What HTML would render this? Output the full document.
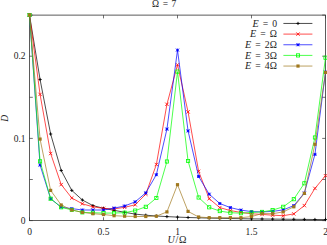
<!DOCTYPE html><html><head><meta charset="utf-8"><style>html,body{margin:0;padding:0;background:#fff}svg{display:block}text{font-family:"Liberation Serif",serif;fill:#222}</style></head><body>
<svg width="327" height="245" viewBox="0 0 327 245">
<rect width="327" height="245" fill="#fff"/>
<rect x="29.5" y="15.1" width="296" height="205.5" fill="none" stroke="#333" stroke-width="0.8"/>
<path d="M29.5 220.6v-3.3M29.5 15.1v3.3M103.5 220.6v-3.3M103.5 15.1v3.3M177.5 220.6v-3.3M177.5 15.1v3.3M251.5 220.6v-3.3M251.5 15.1v3.3M325.5 220.6v-3.3M325.5 15.1v3.3M29.5 220.60h3.3M325.5 220.60h-3.3M29.5 179.50h3.3M325.5 179.50h-3.3M29.5 138.40h3.3M325.5 138.40h-3.3M29.5 97.30h3.3M325.5 97.30h-3.3M29.5 56.20h3.3M325.5 56.20h-3.3M29.5 15.10h3.3M325.5 15.10h-3.3" stroke="#333" stroke-width="0.7" fill="none"/>
<polyline points="29.50,15.00 40.07,79.50 50.64,134.00 61.21,170.50 71.79,190.40 82.36,200.00 92.93,205.60 103.50,208.30 114.07,210.30 124.64,212.30 135.21,214.10 145.79,215.20 156.36,216.00 166.93,216.60 177.50,217.10 188.07,217.50 198.64,217.80 209.21,218.10 219.79,218.30 230.36,218.50 240.93,218.70 251.50,218.90 262.07,219.00 272.64,219.10 283.21,219.20 293.79,219.30 304.36,219.40 314.93,219.50 325.50,219.60" fill="none" stroke="#000" stroke-width="0.7" stroke-linejoin="round"/>
<path d="M27.90 15.00H31.10M29.50 13.40V16.60" stroke="#000" stroke-width="0.9" fill="none"/>
<path d="M38.47 79.50H41.67M40.07 77.90V81.10" stroke="#000" stroke-width="0.9" fill="none"/>
<path d="M49.04 134.00H52.24M50.64 132.40V135.60" stroke="#000" stroke-width="0.9" fill="none"/>
<path d="M59.61 170.50H62.81M61.21 168.90V172.10" stroke="#000" stroke-width="0.9" fill="none"/>
<path d="M70.19 190.40H73.39M71.79 188.80V192.00" stroke="#000" stroke-width="0.9" fill="none"/>
<path d="M80.76 200.00H83.96M82.36 198.40V201.60" stroke="#000" stroke-width="0.9" fill="none"/>
<path d="M91.33 205.60H94.53M92.93 204.00V207.20" stroke="#000" stroke-width="0.9" fill="none"/>
<path d="M101.90 208.30H105.10M103.50 206.70V209.90" stroke="#000" stroke-width="0.9" fill="none"/>
<path d="M112.47 210.30H115.67M114.07 208.70V211.90" stroke="#000" stroke-width="0.9" fill="none"/>
<path d="M123.04 212.30H126.24M124.64 210.70V213.90" stroke="#000" stroke-width="0.9" fill="none"/>
<path d="M133.61 214.10H136.81M135.21 212.50V215.70" stroke="#000" stroke-width="0.9" fill="none"/>
<path d="M144.19 215.20H147.39M145.79 213.60V216.80" stroke="#000" stroke-width="0.9" fill="none"/>
<path d="M154.76 216.00H157.96M156.36 214.40V217.60" stroke="#000" stroke-width="0.9" fill="none"/>
<path d="M165.33 216.60H168.53M166.93 215.00V218.20" stroke="#000" stroke-width="0.9" fill="none"/>
<path d="M175.90 217.10H179.10M177.50 215.50V218.70" stroke="#000" stroke-width="0.9" fill="none"/>
<path d="M186.47 217.50H189.67M188.07 215.90V219.10" stroke="#000" stroke-width="0.9" fill="none"/>
<path d="M197.04 217.80H200.24M198.64 216.20V219.40" stroke="#000" stroke-width="0.9" fill="none"/>
<path d="M207.61 218.10H210.81M209.21 216.50V219.70" stroke="#000" stroke-width="0.9" fill="none"/>
<path d="M218.19 218.30H221.39M219.79 216.70V219.90" stroke="#000" stroke-width="0.9" fill="none"/>
<path d="M228.76 218.50H231.96M230.36 216.90V220.10" stroke="#000" stroke-width="0.9" fill="none"/>
<path d="M239.33 218.70H242.53M240.93 217.10V220.30" stroke="#000" stroke-width="0.9" fill="none"/>
<path d="M249.90 218.90H253.10M251.50 217.30V220.50" stroke="#000" stroke-width="0.9" fill="none"/>
<path d="M260.47 219.00H263.67M262.07 217.40V220.60" stroke="#000" stroke-width="0.9" fill="none"/>
<path d="M271.04 219.10H274.24M272.64 217.50V220.70" stroke="#000" stroke-width="0.9" fill="none"/>
<path d="M281.61 219.20H284.81M283.21 217.60V220.80" stroke="#000" stroke-width="0.9" fill="none"/>
<path d="M292.19 219.30H295.39M293.79 217.70V220.90" stroke="#000" stroke-width="0.9" fill="none"/>
<path d="M302.76 219.40H305.96M304.36 217.80V221.00" stroke="#000" stroke-width="0.9" fill="none"/>
<path d="M313.33 219.50H316.53M314.93 217.90V221.10" stroke="#000" stroke-width="0.9" fill="none"/>
<path d="M323.90 219.60H327.10M325.50 218.00V221.20" stroke="#000" stroke-width="0.9" fill="none"/>
<polyline points="29.50,15.00 40.07,94.40 50.64,153.50 61.21,184.60 71.79,198.00 82.36,203.80 92.93,206.80 103.50,208.40 114.07,208.90 124.64,207.30 135.21,204.80 145.79,194.20 156.36,164.50 166.93,104.30 177.50,64.80 188.07,111.90 198.64,171.40 209.21,198.70 219.79,207.60 230.36,210.60 240.93,212.40 251.50,213.80 262.07,214.40 272.64,215.20 283.21,215.70 293.79,213.90 304.36,205.60 314.93,188.40 325.50,175.70" fill="none" stroke="#ff0000" stroke-width="0.7" stroke-linejoin="round"/>
<path d="M27.80 13.30L31.20 16.70M27.80 16.70L31.20 13.30" stroke="#ff0000" stroke-width="0.8" fill="none"/>
<path d="M38.37 92.70L41.77 96.10M38.37 96.10L41.77 92.70" stroke="#ff0000" stroke-width="0.8" fill="none"/>
<path d="M48.94 151.80L52.34 155.20M48.94 155.20L52.34 151.80" stroke="#ff0000" stroke-width="0.8" fill="none"/>
<path d="M59.51 182.90L62.91 186.30M59.51 186.30L62.91 182.90" stroke="#ff0000" stroke-width="0.8" fill="none"/>
<path d="M70.09 196.30L73.49 199.70M70.09 199.70L73.49 196.30" stroke="#ff0000" stroke-width="0.8" fill="none"/>
<path d="M80.66 202.10L84.06 205.50M80.66 205.50L84.06 202.10" stroke="#ff0000" stroke-width="0.8" fill="none"/>
<path d="M91.23 205.10L94.63 208.50M91.23 208.50L94.63 205.10" stroke="#ff0000" stroke-width="0.8" fill="none"/>
<path d="M101.80 206.70L105.20 210.10M101.80 210.10L105.20 206.70" stroke="#ff0000" stroke-width="0.8" fill="none"/>
<path d="M112.37 207.20L115.77 210.60M112.37 210.60L115.77 207.20" stroke="#ff0000" stroke-width="0.8" fill="none"/>
<path d="M122.94 205.60L126.34 209.00M122.94 209.00L126.34 205.60" stroke="#ff0000" stroke-width="0.8" fill="none"/>
<path d="M133.51 203.10L136.91 206.50M133.51 206.50L136.91 203.10" stroke="#ff0000" stroke-width="0.8" fill="none"/>
<path d="M144.09 192.50L147.49 195.90M144.09 195.90L147.49 192.50" stroke="#ff0000" stroke-width="0.8" fill="none"/>
<path d="M154.66 162.80L158.06 166.20M154.66 166.20L158.06 162.80" stroke="#ff0000" stroke-width="0.8" fill="none"/>
<path d="M165.23 102.60L168.63 106.00M165.23 106.00L168.63 102.60" stroke="#ff0000" stroke-width="0.8" fill="none"/>
<path d="M175.80 63.10L179.20 66.50M175.80 66.50L179.20 63.10" stroke="#ff0000" stroke-width="0.8" fill="none"/>
<path d="M186.37 110.20L189.77 113.60M186.37 113.60L189.77 110.20" stroke="#ff0000" stroke-width="0.8" fill="none"/>
<path d="M196.94 169.70L200.34 173.10M196.94 173.10L200.34 169.70" stroke="#ff0000" stroke-width="0.8" fill="none"/>
<path d="M207.51 197.00L210.91 200.40M207.51 200.40L210.91 197.00" stroke="#ff0000" stroke-width="0.8" fill="none"/>
<path d="M218.09 205.90L221.49 209.30M218.09 209.30L221.49 205.90" stroke="#ff0000" stroke-width="0.8" fill="none"/>
<path d="M228.66 208.90L232.06 212.30M228.66 212.30L232.06 208.90" stroke="#ff0000" stroke-width="0.8" fill="none"/>
<path d="M239.23 210.70L242.63 214.10M239.23 214.10L242.63 210.70" stroke="#ff0000" stroke-width="0.8" fill="none"/>
<path d="M249.80 212.10L253.20 215.50M249.80 215.50L253.20 212.10" stroke="#ff0000" stroke-width="0.8" fill="none"/>
<path d="M260.37 212.70L263.77 216.10M260.37 216.10L263.77 212.70" stroke="#ff0000" stroke-width="0.8" fill="none"/>
<path d="M270.94 213.50L274.34 216.90M270.94 216.90L274.34 213.50" stroke="#ff0000" stroke-width="0.8" fill="none"/>
<path d="M281.51 214.00L284.91 217.40M281.51 217.40L284.91 214.00" stroke="#ff0000" stroke-width="0.8" fill="none"/>
<path d="M292.09 212.20L295.49 215.60M292.09 215.60L295.49 212.20" stroke="#ff0000" stroke-width="0.8" fill="none"/>
<path d="M302.66 203.90L306.06 207.30M302.66 207.30L306.06 203.90" stroke="#ff0000" stroke-width="0.8" fill="none"/>
<path d="M313.23 186.70L316.63 190.10M313.23 190.10L316.63 186.70" stroke="#ff0000" stroke-width="0.8" fill="none"/>
<path d="M323.80 174.00L327.20 177.40M323.80 177.40L327.20 174.00" stroke="#ff0000" stroke-width="0.8" fill="none"/>
<polyline points="29.50,15.00 40.07,165.10 50.64,198.70 61.21,207.20 71.79,208.60 82.36,210.00 92.93,210.00 103.50,210.00 114.07,208.10 124.64,206.00 135.21,201.80 145.79,192.90 156.36,174.70 166.93,129.10 177.50,50.10 188.07,130.90 198.64,176.50 209.21,194.20 219.79,203.50 230.36,207.60 240.93,210.10 251.50,211.60 262.07,211.90 272.64,211.40 283.21,209.90 293.79,205.60 304.36,193.00 314.93,154.40 325.50,72.00" fill="none" stroke="#0000ff" stroke-width="0.7" stroke-linejoin="round"/>
<path d="M28.00 13.50L31.00 16.50M28.00 16.50L31.00 13.50M29.50 13.50V16.50M28.00 15.00H31.00" stroke="#0000ff" stroke-width="0.9" fill="none"/>
<path d="M38.57 163.60L41.57 166.60M38.57 166.60L41.57 163.60M40.07 163.60V166.60M38.57 165.10H41.57" stroke="#0000ff" stroke-width="0.9" fill="none"/>
<path d="M49.14 197.20L52.14 200.20M49.14 200.20L52.14 197.20M50.64 197.20V200.20M49.14 198.70H52.14" stroke="#0000ff" stroke-width="0.9" fill="none"/>
<path d="M59.71 205.70L62.71 208.70M59.71 208.70L62.71 205.70M61.21 205.70V208.70M59.71 207.20H62.71" stroke="#0000ff" stroke-width="0.9" fill="none"/>
<path d="M70.29 207.10L73.29 210.10M70.29 210.10L73.29 207.10M71.79 207.10V210.10M70.29 208.60H73.29" stroke="#0000ff" stroke-width="0.9" fill="none"/>
<path d="M80.86 208.50L83.86 211.50M80.86 211.50L83.86 208.50M82.36 208.50V211.50M80.86 210.00H83.86" stroke="#0000ff" stroke-width="0.9" fill="none"/>
<path d="M91.43 208.50L94.43 211.50M91.43 211.50L94.43 208.50M92.93 208.50V211.50M91.43 210.00H94.43" stroke="#0000ff" stroke-width="0.9" fill="none"/>
<path d="M102.00 208.50L105.00 211.50M102.00 211.50L105.00 208.50M103.50 208.50V211.50M102.00 210.00H105.00" stroke="#0000ff" stroke-width="0.9" fill="none"/>
<path d="M112.57 206.60L115.57 209.60M112.57 209.60L115.57 206.60M114.07 206.60V209.60M112.57 208.10H115.57" stroke="#0000ff" stroke-width="0.9" fill="none"/>
<path d="M123.14 204.50L126.14 207.50M123.14 207.50L126.14 204.50M124.64 204.50V207.50M123.14 206.00H126.14" stroke="#0000ff" stroke-width="0.9" fill="none"/>
<path d="M133.71 200.30L136.71 203.30M133.71 203.30L136.71 200.30M135.21 200.30V203.30M133.71 201.80H136.71" stroke="#0000ff" stroke-width="0.9" fill="none"/>
<path d="M144.29 191.40L147.29 194.40M144.29 194.40L147.29 191.40M145.79 191.40V194.40M144.29 192.90H147.29" stroke="#0000ff" stroke-width="0.9" fill="none"/>
<path d="M154.86 173.20L157.86 176.20M154.86 176.20L157.86 173.20M156.36 173.20V176.20M154.86 174.70H157.86" stroke="#0000ff" stroke-width="0.9" fill="none"/>
<path d="M165.43 127.60L168.43 130.60M165.43 130.60L168.43 127.60M166.93 127.60V130.60M165.43 129.10H168.43" stroke="#0000ff" stroke-width="0.9" fill="none"/>
<path d="M176.00 48.60L179.00 51.60M176.00 51.60L179.00 48.60M177.50 48.60V51.60M176.00 50.10H179.00" stroke="#0000ff" stroke-width="0.9" fill="none"/>
<path d="M186.57 129.40L189.57 132.40M186.57 132.40L189.57 129.40M188.07 129.40V132.40M186.57 130.90H189.57" stroke="#0000ff" stroke-width="0.9" fill="none"/>
<path d="M197.14 175.00L200.14 178.00M197.14 178.00L200.14 175.00M198.64 175.00V178.00M197.14 176.50H200.14" stroke="#0000ff" stroke-width="0.9" fill="none"/>
<path d="M207.71 192.70L210.71 195.70M207.71 195.70L210.71 192.70M209.21 192.70V195.70M207.71 194.20H210.71" stroke="#0000ff" stroke-width="0.9" fill="none"/>
<path d="M218.29 202.00L221.29 205.00M218.29 205.00L221.29 202.00M219.79 202.00V205.00M218.29 203.50H221.29" stroke="#0000ff" stroke-width="0.9" fill="none"/>
<path d="M228.86 206.10L231.86 209.10M228.86 209.10L231.86 206.10M230.36 206.10V209.10M228.86 207.60H231.86" stroke="#0000ff" stroke-width="0.9" fill="none"/>
<path d="M239.43 208.60L242.43 211.60M239.43 211.60L242.43 208.60M240.93 208.60V211.60M239.43 210.10H242.43" stroke="#0000ff" stroke-width="0.9" fill="none"/>
<path d="M250.00 210.10L253.00 213.10M250.00 213.10L253.00 210.10M251.50 210.10V213.10M250.00 211.60H253.00" stroke="#0000ff" stroke-width="0.9" fill="none"/>
<path d="M260.57 210.40L263.57 213.40M260.57 213.40L263.57 210.40M262.07 210.40V213.40M260.57 211.90H263.57" stroke="#0000ff" stroke-width="0.9" fill="none"/>
<path d="M271.14 209.90L274.14 212.90M271.14 212.90L274.14 209.90M272.64 209.90V212.90M271.14 211.40H274.14" stroke="#0000ff" stroke-width="0.9" fill="none"/>
<path d="M281.71 208.40L284.71 211.40M281.71 211.40L284.71 208.40M283.21 208.40V211.40M281.71 209.90H284.71" stroke="#0000ff" stroke-width="0.9" fill="none"/>
<path d="M292.29 204.10L295.29 207.10M292.29 207.10L295.29 204.10M293.79 204.10V207.10M292.29 205.60H295.29" stroke="#0000ff" stroke-width="0.9" fill="none"/>
<path d="M302.86 191.50L305.86 194.50M302.86 194.50L305.86 191.50M304.36 191.50V194.50M302.86 193.00H305.86" stroke="#0000ff" stroke-width="0.9" fill="none"/>
<path d="M313.43 152.90L316.43 155.90M313.43 155.90L316.43 152.90M314.93 152.90V155.90M313.43 154.40H316.43" stroke="#0000ff" stroke-width="0.9" fill="none"/>
<path d="M324.00 70.50L327.00 73.50M324.00 73.50L327.00 70.50M325.50 70.50V73.50M324.00 72.00H327.00" stroke="#0000ff" stroke-width="0.9" fill="none"/>
<polyline points="29.50,15.00 40.07,161.30 50.64,198.70 61.21,207.30 71.79,209.90 82.36,212.40 92.93,212.70 103.50,213.10 114.07,213.00 124.64,212.70 135.21,210.60 145.79,206.80 156.36,198.00 166.93,161.50 177.50,71.60 188.07,161.00 198.64,197.50 209.21,207.30 219.79,211.10 230.36,212.70 240.93,213.20 251.50,212.50 262.07,211.90 272.64,210.10 283.21,206.80 293.79,199.20 304.36,183.30 314.93,137.50 325.50,57.70" fill="none" stroke="#00ff00" stroke-width="0.7" stroke-linejoin="round"/>
<rect x="27.90" y="13.40" width="3.2" height="3.2" stroke="#00ff00" stroke-width="0.8" fill="none"/>
<rect x="38.47" y="159.70" width="3.2" height="3.2" stroke="#00ff00" stroke-width="0.8" fill="none"/>
<rect x="49.04" y="197.10" width="3.2" height="3.2" stroke="#00ff00" stroke-width="0.8" fill="none"/>
<rect x="59.61" y="205.70" width="3.2" height="3.2" stroke="#00ff00" stroke-width="0.8" fill="none"/>
<rect x="70.19" y="208.30" width="3.2" height="3.2" stroke="#00ff00" stroke-width="0.8" fill="none"/>
<rect x="80.76" y="210.80" width="3.2" height="3.2" stroke="#00ff00" stroke-width="0.8" fill="none"/>
<rect x="91.33" y="211.10" width="3.2" height="3.2" stroke="#00ff00" stroke-width="0.8" fill="none"/>
<rect x="101.90" y="211.50" width="3.2" height="3.2" stroke="#00ff00" stroke-width="0.8" fill="none"/>
<rect x="112.47" y="211.40" width="3.2" height="3.2" stroke="#00ff00" stroke-width="0.8" fill="none"/>
<rect x="123.04" y="211.10" width="3.2" height="3.2" stroke="#00ff00" stroke-width="0.8" fill="none"/>
<rect x="133.61" y="209.00" width="3.2" height="3.2" stroke="#00ff00" stroke-width="0.8" fill="none"/>
<rect x="144.19" y="205.20" width="3.2" height="3.2" stroke="#00ff00" stroke-width="0.8" fill="none"/>
<rect x="154.76" y="196.40" width="3.2" height="3.2" stroke="#00ff00" stroke-width="0.8" fill="none"/>
<rect x="165.33" y="159.90" width="3.2" height="3.2" stroke="#00ff00" stroke-width="0.8" fill="none"/>
<rect x="175.90" y="70.00" width="3.2" height="3.2" stroke="#00ff00" stroke-width="0.8" fill="none"/>
<rect x="186.47" y="159.40" width="3.2" height="3.2" stroke="#00ff00" stroke-width="0.8" fill="none"/>
<rect x="197.04" y="195.90" width="3.2" height="3.2" stroke="#00ff00" stroke-width="0.8" fill="none"/>
<rect x="207.61" y="205.70" width="3.2" height="3.2" stroke="#00ff00" stroke-width="0.8" fill="none"/>
<rect x="218.19" y="209.50" width="3.2" height="3.2" stroke="#00ff00" stroke-width="0.8" fill="none"/>
<rect x="228.76" y="211.10" width="3.2" height="3.2" stroke="#00ff00" stroke-width="0.8" fill="none"/>
<rect x="239.33" y="211.60" width="3.2" height="3.2" stroke="#00ff00" stroke-width="0.8" fill="none"/>
<rect x="249.90" y="210.90" width="3.2" height="3.2" stroke="#00ff00" stroke-width="0.8" fill="none"/>
<rect x="260.47" y="210.30" width="3.2" height="3.2" stroke="#00ff00" stroke-width="0.8" fill="none"/>
<rect x="271.04" y="208.50" width="3.2" height="3.2" stroke="#00ff00" stroke-width="0.8" fill="none"/>
<rect x="281.61" y="205.20" width="3.2" height="3.2" stroke="#00ff00" stroke-width="0.8" fill="none"/>
<rect x="292.19" y="197.60" width="3.2" height="3.2" stroke="#00ff00" stroke-width="0.8" fill="none"/>
<rect x="302.76" y="181.70" width="3.2" height="3.2" stroke="#00ff00" stroke-width="0.8" fill="none"/>
<rect x="313.33" y="135.90" width="3.2" height="3.2" stroke="#00ff00" stroke-width="0.8" fill="none"/>
<rect x="323.90" y="56.10" width="3.2" height="3.2" stroke="#00ff00" stroke-width="0.8" fill="none"/>
<polyline points="29.50,15.00 40.07,139.10 50.64,190.40 61.21,205.00 71.79,210.00 82.36,212.40 92.93,213.70 103.50,214.50 114.07,215.70 124.64,216.20 135.21,216.50 145.79,216.50 156.36,216.20 166.93,211.90 177.50,184.70 188.07,211.40 198.64,217.00 209.21,217.70 219.79,217.70 230.36,217.70 240.93,217.70 251.50,216.60 262.07,213.50 272.64,213.70 283.21,211.90 293.79,206.80 304.36,193.40 314.93,144.30 325.50,72.40" fill="none" stroke="#a0781e" stroke-width="0.7" stroke-linejoin="round"/>
<rect x="27.90" y="13.40" width="3.2" height="3.2" fill="#a0781e"/>
<rect x="38.47" y="137.50" width="3.2" height="3.2" fill="#a0781e"/>
<rect x="49.04" y="188.80" width="3.2" height="3.2" fill="#a0781e"/>
<rect x="59.61" y="203.40" width="3.2" height="3.2" fill="#a0781e"/>
<rect x="70.19" y="208.40" width="3.2" height="3.2" fill="#a0781e"/>
<rect x="80.76" y="210.80" width="3.2" height="3.2" fill="#a0781e"/>
<rect x="91.33" y="212.10" width="3.2" height="3.2" fill="#a0781e"/>
<rect x="101.90" y="212.90" width="3.2" height="3.2" fill="#a0781e"/>
<rect x="112.47" y="214.10" width="3.2" height="3.2" fill="#a0781e"/>
<rect x="123.04" y="214.60" width="3.2" height="3.2" fill="#a0781e"/>
<rect x="133.61" y="214.90" width="3.2" height="3.2" fill="#a0781e"/>
<rect x="144.19" y="214.90" width="3.2" height="3.2" fill="#a0781e"/>
<rect x="154.76" y="214.60" width="3.2" height="3.2" fill="#a0781e"/>
<rect x="165.33" y="210.30" width="3.2" height="3.2" fill="#a0781e"/>
<rect x="175.90" y="183.10" width="3.2" height="3.2" fill="#a0781e"/>
<rect x="186.47" y="209.80" width="3.2" height="3.2" fill="#a0781e"/>
<rect x="197.04" y="215.40" width="3.2" height="3.2" fill="#a0781e"/>
<rect x="207.61" y="216.10" width="3.2" height="3.2" fill="#a0781e"/>
<rect x="218.19" y="216.10" width="3.2" height="3.2" fill="#a0781e"/>
<rect x="228.76" y="216.10" width="3.2" height="3.2" fill="#a0781e"/>
<rect x="239.33" y="216.10" width="3.2" height="3.2" fill="#a0781e"/>
<rect x="249.90" y="215.00" width="3.2" height="3.2" fill="#a0781e"/>
<rect x="260.47" y="211.90" width="3.2" height="3.2" fill="#a0781e"/>
<rect x="271.04" y="212.10" width="3.2" height="3.2" fill="#a0781e"/>
<rect x="281.61" y="210.30" width="3.2" height="3.2" fill="#a0781e"/>
<rect x="292.19" y="205.20" width="3.2" height="3.2" fill="#a0781e"/>
<rect x="302.76" y="191.80" width="3.2" height="3.2" fill="#a0781e"/>
<rect x="313.33" y="142.70" width="3.2" height="3.2" fill="#a0781e"/>
<rect x="323.90" y="70.80" width="3.2" height="3.2" fill="#a0781e"/>
<path d="M283.4 23.45H312.4" stroke="#000" stroke-width="0.7"/>
<path d="M296.40 23.45H299.60M298.00 21.85V25.05" stroke="#000" stroke-width="0.9" fill="none"/>
<text x="277.2" y="26.65" font-size="9.7" text-anchor="end" word-spacing="1.3" letter-spacing="0.15"><tspan font-style="italic" font-size="10.2">E</tspan> = 0</text>
<path d="M283.4 34.10H312.4" stroke="#ff0000" stroke-width="0.7"/>
<path d="M296.30 32.40L299.70 35.80M296.30 35.80L299.70 32.40" stroke="#ff0000" stroke-width="0.8" fill="none"/>
<text x="277.2" y="37.30" font-size="9.7" text-anchor="end" word-spacing="1.3" letter-spacing="0.15"><tspan font-style="italic" font-size="10.2">E</tspan> = Ω</text>
<path d="M283.4 44.75H312.4" stroke="#0000ff" stroke-width="0.7"/>
<path d="M296.50 43.25L299.50 46.25M296.50 46.25L299.50 43.25M298.00 43.25V46.25M296.50 44.75H299.50" stroke="#0000ff" stroke-width="0.9" fill="none"/>
<text x="277.2" y="47.95" font-size="9.7" text-anchor="end" word-spacing="1.3" letter-spacing="0.15"><tspan font-style="italic" font-size="10.2">E</tspan> = 2Ω</text>
<path d="M283.4 55.40H312.4" stroke="#00ff00" stroke-width="0.7"/>
<rect x="296.40" y="53.80" width="3.2" height="3.2" stroke="#00ff00" stroke-width="0.8" fill="none"/>
<text x="277.2" y="58.60" font-size="9.7" text-anchor="end" word-spacing="1.3" letter-spacing="0.15"><tspan font-style="italic" font-size="10.2">E</tspan> = 3Ω</text>
<path d="M283.4 66.05H312.4" stroke="#a0781e" stroke-width="0.7"/>
<rect x="296.40" y="64.45" width="3.2" height="3.2" fill="#a0781e"/>
<text x="277.2" y="69.25" font-size="9.7" text-anchor="end" word-spacing="1.3" letter-spacing="0.15"><tspan font-style="italic" font-size="10.2">E</tspan> = 4Ω</text>
<text x="164.2" y="7" font-size="9.5" text-anchor="middle" word-spacing="1.2">Ω = 7</text>
<text x="177.3" y="243.2" font-size="10" text-anchor="middle" letter-spacing="0.7"><tspan font-style="italic">U</tspan>/Ω</text>
<text transform="translate(8.2,118.3) rotate(-90)" font-size="9.5" text-anchor="middle" font-style="italic">D</text>
<text x="29.5" y="234.7" font-size="9.5" text-anchor="middle">0</text>
<text x="103.5" y="234.7" font-size="9.5" text-anchor="middle">0.5</text>
<text x="177.5" y="234.7" font-size="9.5" text-anchor="middle">1</text>
<text x="251.5" y="234.7" font-size="9.5" text-anchor="middle">1.5</text>
<text x="325.5" y="234.7" font-size="9.5" text-anchor="middle">2</text>
<text x="25.5" y="223.80" font-size="9.5" text-anchor="end">0</text>
<text x="25.5" y="141.60" font-size="9.5" text-anchor="end">0.1</text>
<text x="25.5" y="59.40" font-size="9.5" text-anchor="end">0.2</text>
</svg></body></html>
